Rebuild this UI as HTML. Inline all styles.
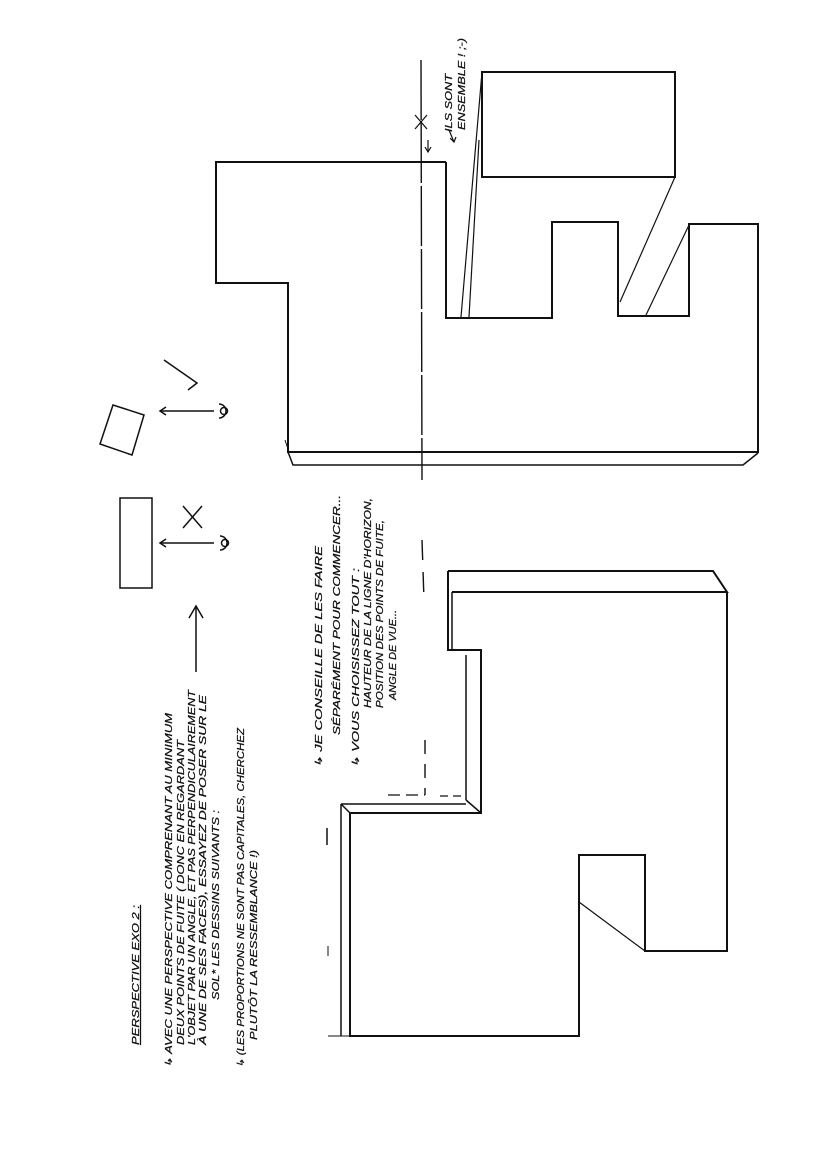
<!DOCTYPE html>
<html><head><meta charset="utf-8"><style>
html,body{margin:0;padding:0;background:#fff;}
svg{display:block;}
text{font-family:"Liberation Sans",sans-serif;font-size:10px;fill:#111;font-style:italic;stroke:#111;stroke-width:0.25;}
</style></head><body>
<svg width="828" height="1169" viewBox="0 0 828 1169" xmlns="http://www.w3.org/2000/svg">
<g fill="none" stroke="#111" stroke-width="2" stroke-linejoin="miter">
<polyline points="446,162 216,162 216,283 288,283 288,452 758,452 758,224 689,224 689,316 618,316 618,222 552,222 552,318 446,318 446,162"/>
<rect x="482" y="72" width="193" height="105"/>
<polyline points="288,452 293,465 743,465 758,453" stroke-width="1.5"/>
<line x1="285" y1="440" x2="289" y2="452" stroke-width="1"/>
</g>
<g stroke="#111" stroke-width="1.2" fill="none">
<line x1="482" y1="72" x2="461" y2="317"/>
<line x1="479" y1="140" x2="469" y2="317"/>
<line x1="675" y1="177" x2="620" y2="302"/>
<line x1="689" y1="225" x2="646" y2="315"/>
<line x1="421" y1="60" x2="422" y2="480" stroke-dasharray="60,3" stroke-width="1.4"/>
<line x1="422" y1="540" x2="424" y2="600" stroke-dasharray="20,12" stroke-width="1.4"/>
<line x1="425" y1="740" x2="425" y2="795" stroke-dasharray="14,10" stroke-width="1.4"/>
<line x1="388" y1="795" x2="425" y2="795" stroke-dasharray="12,6"/>
<line x1="440" y1="796" x2="463" y2="796" stroke-dasharray="8,5"/>
<line x1="415" y1="115" x2="427" y2="129"/>
<line x1="427" y1="115" x2="415" y2="129"/>
<line x1="428" y1="140" x2="428" y2="152"/>
<polyline points="425,147 428,152 431,147"/>
<line x1="449" y1="130" x2="454" y2="142"/>
<polyline points="450,138 454,142 456,137"/>
</g>
<g fill="none" stroke="#111" stroke-width="2">
<polyline points="448,571 713,571 727,592 452,592"/>
<polyline points="448,571 448,650 481,650 481,813 350,813 350,1036 579,1036 579,855 645,855 645,951 727,951 727,592"/>
<polyline points="452,592 452,650" stroke-width="1.5"/>
<line x1="466" y1="655" x2="466" y2="800" stroke-width="1.5"/>
<line x1="341" y1="804" x2="466" y2="804" stroke-width="1.5"/>
<line x1="341" y1="804" x2="341" y2="1036" stroke-width="1.5"/>
<line x1="466" y1="800" x2="481" y2="813" stroke-width="1.5"/>
<line x1="341" y1="804" x2="350" y2="813" stroke-width="1.5"/>
<line x1="579" y1="902" x2="645" y2="951" stroke-width="1.2"/>
<line x1="328" y1="1036" x2="350" y2="1036" stroke-width="1"/>
<line x1="327" y1="828" x2="327" y2="845" stroke-width="1.5"/>
<line x1="328" y1="946" x2="328" y2="956" stroke-width="1"/>
</g>
<g fill="none" stroke="#111" stroke-width="1.5">
<polygon points="113,405 144,415 132,455 100,444"/>
<line x1="160" y1="411" x2="214" y2="411"/>
<polyline points="166,407 160,411 166,415"/>
<polyline points="164,360 197,383 188,390"/>
<path d="M219,404 A7,7 0 1 1 219,418"/><circle cx="224" cy="411" r="3.5"/>
<rect x="120" y="498" width="32" height="90"/>
<line x1="183" y1="506" x2="202" y2="528"/>
<line x1="202" y1="506" x2="183" y2="528"/>
<line x1="160" y1="543" x2="214" y2="543"/>
<polyline points="166,539 160,543 166,547"/>
<path d="M220,536 A7,7 0 1 1 220,550"/><circle cx="225" cy="543" r="3.5"/>
<line x1="196" y1="606" x2="196" y2="672"/>
<polyline points="189,618 196,606 203,618"/>
</g>
<g>
<text transform="translate(139,1045) rotate(-90)" textLength="140" lengthAdjust="spacingAndGlyphs" text-decoration="underline">PERSPECTIVE EXO 2 :</text>
<text transform="translate(172,1068) rotate(-90)" textLength="355" lengthAdjust="spacingAndGlyphs">↳ AVEC UNE PERSPECTIVE COMPRENANT AU MINIMUM</text>
<text transform="translate(184,1045) rotate(-90)" textLength="305" lengthAdjust="spacingAndGlyphs">DEUX POINTS DE FUITE ( DONC EN REGARDANT</text>
<text transform="translate(195,1045) rotate(-90)" textLength="355" lengthAdjust="spacingAndGlyphs">L'OBJET PAR UN ANGLE, ET PAS PERPENDICULAIREMENT</text>
<text transform="translate(206,1045) rotate(-90)" textLength="350" lengthAdjust="spacingAndGlyphs">À UNE DE SES FACES), ESSAYEZ DE POSER SUR LE</text>
<text transform="translate(219,1000) rotate(-90)" textLength="190" lengthAdjust="spacingAndGlyphs">SOL* LES DESSINS SUIVANTS :</text>
<text transform="translate(244,1068) rotate(-90)" textLength="340" lengthAdjust="spacingAndGlyphs">↳ (LES PROPORTIONS NE SONT PAS CAPITALES, CHERCHEZ</text>
<text transform="translate(257,1040) rotate(-90)" textLength="190" lengthAdjust="spacingAndGlyphs">PLUTÔT LA RESSEMBLANCE !)</text>
</g>
<g>
<text transform="translate(322,768) rotate(-90)" textLength="222" lengthAdjust="spacingAndGlyphs">↳ JE CONSEILLE DE LES FAIRE</text>
<text transform="translate(340,735) rotate(-90)" textLength="240" lengthAdjust="spacingAndGlyphs">SÉPARÉMENT POUR COMMENCER...</text>
<text transform="translate(359,768) rotate(-90)" textLength="200" lengthAdjust="spacingAndGlyphs">↳ VOUS CHOISISSEZ TOUT :</text>
<text transform="translate(371,708) rotate(-90)" textLength="210" lengthAdjust="spacingAndGlyphs">HAUTEUR DE LA LIGNE D'HORIZON,</text>
<text transform="translate(383,708) rotate(-90)" textLength="188" lengthAdjust="spacingAndGlyphs">POSITION DES POINTS DE FUITE,</text>
<text transform="translate(396,700) rotate(-90)" textLength="90" lengthAdjust="spacingAndGlyphs">ANGLE DE VUE...</text>
</g>
<text transform="translate(452,132) rotate(-90)" textLength="58" lengthAdjust="spacingAndGlyphs">ILS SONT</text>
<text transform="translate(465,130) rotate(-90)" textLength="92" lengthAdjust="spacingAndGlyphs">ENSEMBLE ! ;-)</text>
</svg>
</body></html>
